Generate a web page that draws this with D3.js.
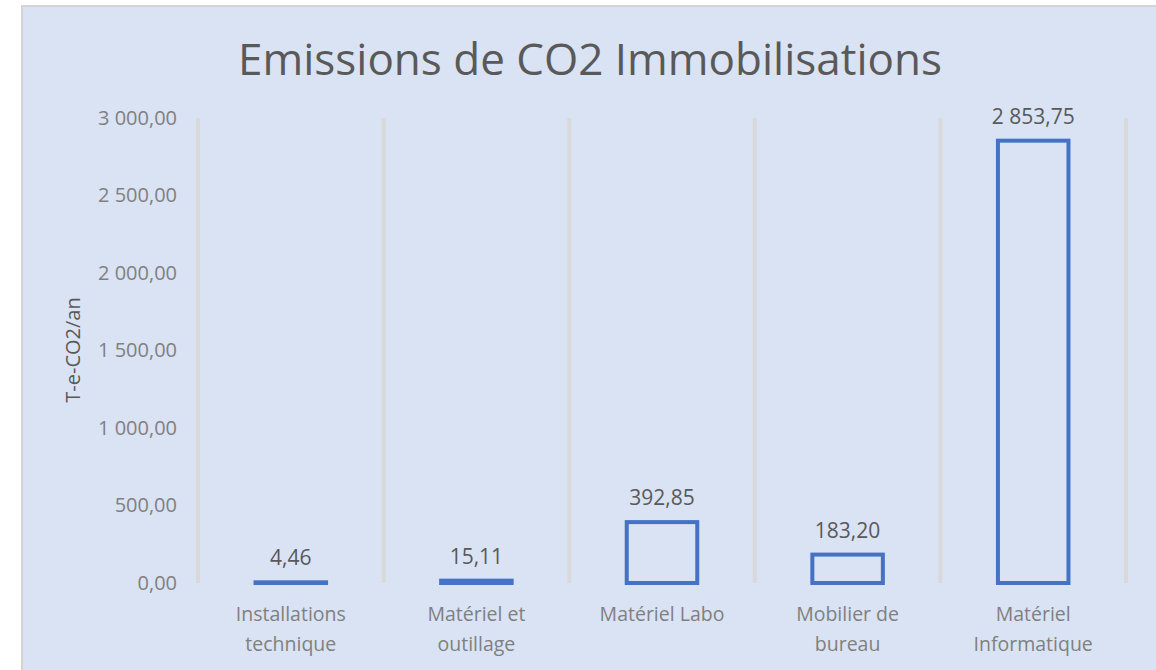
<!DOCTYPE html>
<html>
<head>
<meta charset="utf-8">
<script src="https://cdnjs.cloudflare.com/ajax/libs/d3/7.8.5/d3.min.js"></script>
<style>
  body { margin: 0; background: #fff; }
  text { font-family: "Open Sans", "Noto Sans", sans-serif; }
</style>
</head>
<body>
<div id="chart"></div>
<script>
// Chart data
const categories = [
    ["Installations", "technique"],
    ["Matériel et", "outillage"],
    ["Matériel Labo"],
    ["Mobilier de", "bureau"],
    ["Matériel", "Informatique"]
];
const values = [4.46, 15.11, 392.85, 183.20, 2853.75];
const yTicks = [0, 500, 1000, 1500, 2000, 2500, 3000];

const width = 1156, height = 670;

const svg = d3.select("#chart").append("svg")
    .attr("width", width)
    .attr("height", height);

// panel background
svg.append("rect")
    .attr("x", 22).attr("y", 6)
    .attr("width", 1140).attr("height", 680)
    .attr("fill", "#dae3f3")
    .attr("stroke", "#d4d4d4")
    .attr("stroke-width", 2);

const fr = d3.formatLocale({ decimal: ",", thousands: " ", grouping: [3], currency: ["", " €"] });
const fmt = fr.format(",.2f");

const x = d3.scaleBand()
    .domain(d3.range(categories.length))
    .range([198, 1126]);

const y = d3.scaleLinear()
    .domain([0, 3000])
    .range([583, 118]);

// vertical grid lines at category boundaries
const bounds = d3.range(categories.length + 1).map(i => i < categories.length ? x(i) : x.range()[1]);
svg.append("g").selectAll("line")
    .data(bounds)
    .enter().append("line")
    .attr("x1", d => d).attr("x2", d => d)
    .attr("y1", y(3000)).attr("y2", y(0))
    .attr("stroke", "#d9d9d9")
    .attr("stroke-width", 4);

// y axis labels
const yAxis = d3.axisLeft(y).tickValues(yTicks).tickFormat(fmt).tickSize(0).tickPadding(0);
const ya = svg.append("g")
    .attr("transform", "translate(177,0)")
    .call(yAxis);
ya.select(".domain").remove();
ya.selectAll("text")
    .attr("fill", "#808080")
    .style("font-size", "20px")
    .style("font-family", "'Open Sans', sans-serif");

// bars (outlined)
const barW = x.bandwidth() * 0.38;
svg.append("g").selectAll("rect")
    .data(values)
    .enter().append("rect")
    .attr("x", (d, i) => x(i) + (x.bandwidth() - barW) / 2)
    .attr("y", d => y(d))
    .attr("width", barW)
    .attr("height", d => y(0) - y(d))
    .attr("fill", "none")
    .attr("stroke", "#4472c4")
    .attr("stroke-width", 4);

// value labels
svg.append("g").selectAll("text")
    .data(values)
    .enter().append("text")
    .attr("x", (d, i) => x(i) + x.bandwidth() / 2)
    .attr("y", d => y(d) - 17)
    .attr("text-anchor", "middle")
    .attr("fill", "#595959")
    .style("font-size", "21px")
    .text(d => fmt(d));

// category labels
const cat = svg.append("g").selectAll("text")
    .data(categories)
    .enter().append("text")
    .attr("x", (d, i) => x(i) + x.bandwidth() / 2)
    .attr("y", 621)
    .attr("text-anchor", "middle")
    .attr("fill", "#808080")
    .style("font-size", "19.5px");
cat.selectAll("tspan")
    .data(d => d)
    .enter().append("tspan")
    .attr("x", function() { return this.parentNode.getAttribute("x"); })
    .attr("dy", (d, i) => i === 0 ? 0 : 30)
    .text(d => d);

// y axis title
svg.append("text")
    .attr("transform", "translate(80,350) rotate(-90)")
    .attr("text-anchor", "middle")
    .attr("fill", "#595959")
    .style("font-size", "20px")
    .text("T-e-CO2/an");

// chart title
svg.append("text")
    .attr("x", 590)
    .attr("y", 75)
    .attr("text-anchor", "middle")
    .attr("fill", "#595959")
    .style("font-size", "44px")
    .text("Emissions de CO2 Immobilisations");
</script>
</body>
</html>
